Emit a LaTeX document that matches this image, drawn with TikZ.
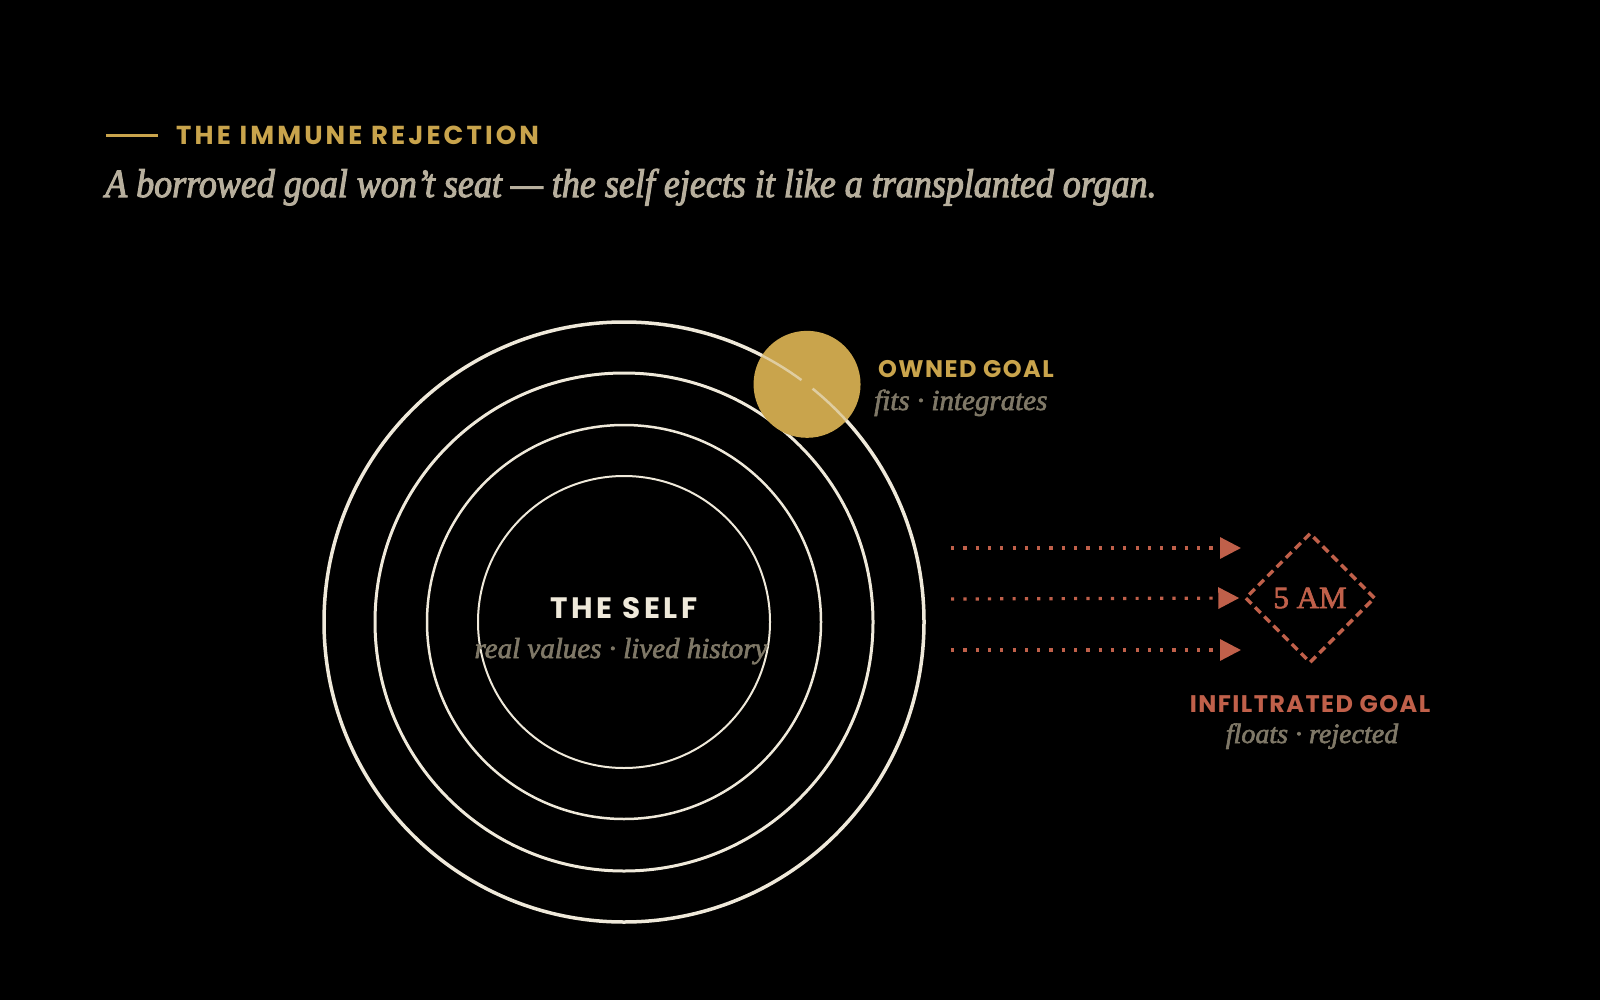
\documentclass[tikz,border=0pt]{standalone}
\usepackage{fontspec}
\setmainfont{Liberation Serif}
\newfontfamily\notefont[FakeBold=2.5,FakeStretch=0.9]{Liberation Serif}
\newfontfamily\capfont[FakeBold=2.2]{Liberation Serif}
\newfontfamily\capsfont[LetterSpace=6]{Poppins}
\newfontfamily\capswide[LetterSpace=12]{Poppins}
\usetikzlibrary{arrows.meta,
                shapes.geometric,calc,positioning}
\definecolor{gold}{HTML}{C9A44C}
\definecolor{rust}{HTML}{C0604A}
\definecolor{cream}{HTML}{EFE9DA}
\definecolor{stone}{HTML}{B7AF9D}
\definecolor{ash}{HTML}{7F7867}

\begin{document}
\begin{tikzpicture}[x=1pt,y=-1pt,
    ring/.style={draw=cream},
    caption/.style={inner sep=0pt, text=ash, font=\capfont\itshape\fontsize{29}{31}\selectfont},
    tag/.style={inner sep=0pt, font=\capsfont\bfseries\fontsize{24}{26}\selectfont},
    push/.style={rust, line width=3.2pt, dash pattern=on 3.2pt off 9.1pt,
                 -{Triangle[length=21pt,width=21pt,sep=9pt]}}]
  \fill[black] (0,0) rectangle (1600,1000);
  \useasboundingbox (0,0) rectangle (1600,1000);

  % heading
  \draw[gold, line width=3pt] (106,136) -- (158,136);
  \node(title) at (176,145) [anchor=base west, inner sep=0pt, text=gold,
        font=\capswide\bfseries\fontsize{26}{28}\selectfont] {THE IMMUNE REJECTION};
  \node(lede) at (105,197) [anchor=base west, inner sep=0pt, text=stone,
        font=\notefont\itshape\fontsize{40}{44}\selectfont]
        {A borrowed goal won’t seat — the self ejects it like a transplanted organ.};

  % the self
  \coordinate(c) at (624,622);
  \draw[ring, line width=3.5pt] (c) circle[radius=300];
  \draw[ring, line width=3pt]   (c) circle[radius=249];
  \draw[ring, line width=2.5pt] (c) circle[radius=197];
  \draw[ring, line width=2pt]   (c) circle[radius=146];

  \node(self) at ($(c)+(0,-4)$) [anchor=base, tag, text=cream,
        font=\capswide\bfseries\fontsize{29.5}{32}\selectfont] {THE SELF};
  \node(selfsub) at ($(c)+(-3,36)$) [anchor=base, caption] {real values · lived history};

  % owned goal sits on the outer ring
  \node(owned) at ($(c)+(-52.4:300)$) [circle, fill=gold, minimum size=107pt, inner sep=0pt] {};
  \begin{scope}
    \clip (owned) circle[radius=53.5];
    \draw[cream, opacity=0.6, line width=2.5pt] (c) circle[radius=300];
  \end{scope}
  \fill[gold] (owned) circle[radius=7];

  \node(ownedlbl) at (878,377) [anchor=base west, tag, text=gold] {OWNED GOAL};
  \node(ownedsub) at (874,410) [anchor=base west, caption] {fits · integrates};

  % infiltrated goal
  \node(rogue) at (1310,598) [diamond, aspect=1, draw=rust, line width=3.5pt,
        dash pattern=on 8pt off 5pt, minimum size=130pt, inner sep=0pt,
        text=rust, font=\capfont\fontsize{31}{34}\selectfont] {5 AM};

  \coordinate(a1) at (951,548);
  \coordinate(a2) at (951,599);
  \coordinate(a3) at (951,650);
  \coordinate(b1) at (1250,548);
  \coordinate(b3) at (1250,650);
  \draw[push] (a1) -- (b1);
  \draw[push, shorten >=-5pt] (a2) -- (rogue.west);
  \draw[push] (a3) -- (b3);

  \node(roguelbl) at (1310,712) [anchor=base, tag, text=rust] {INFILTRATED GOAL};
  \node(roguesub) at (1312,743) [anchor=base, caption, font=\capfont\itshape\fontsize{28}{30}\selectfont] {floats · rejected};
\end{tikzpicture}
\end{document}
